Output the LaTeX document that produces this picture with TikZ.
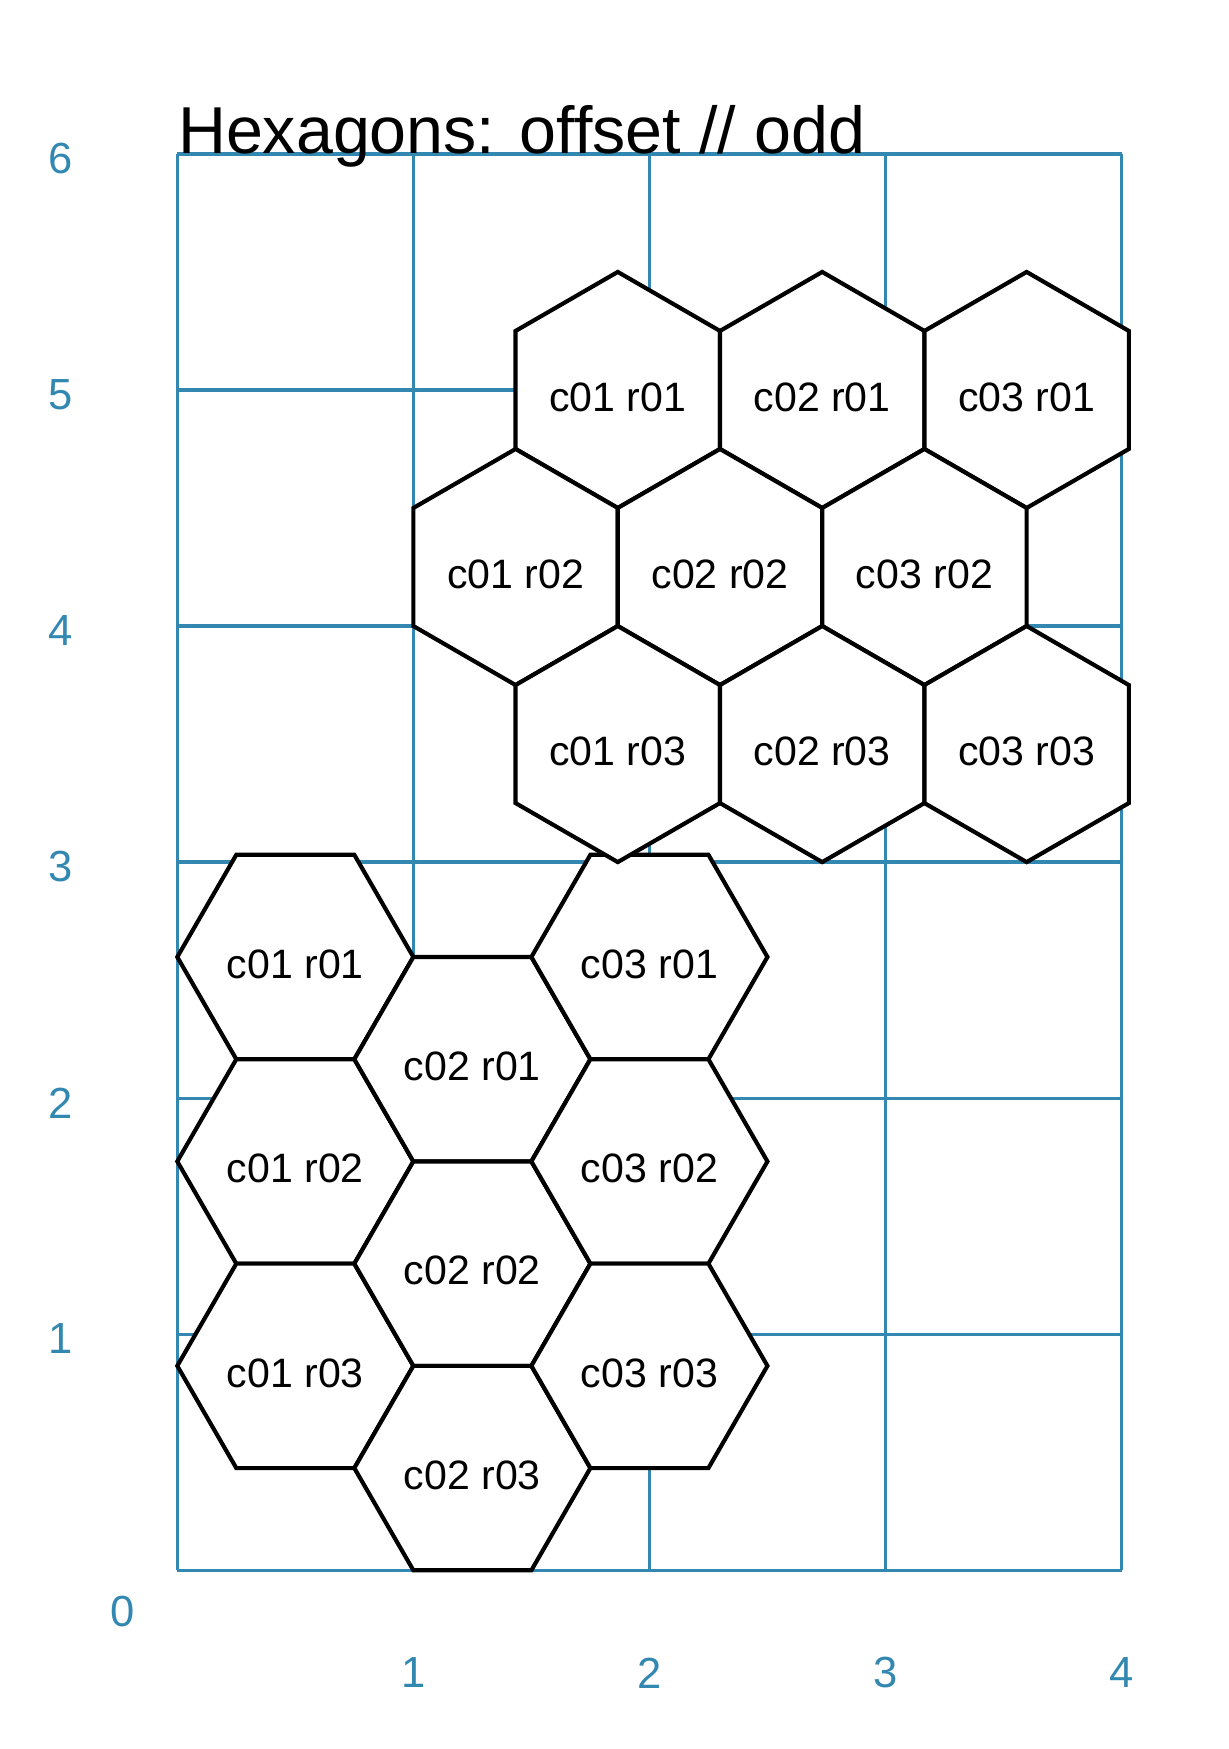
\documentclass[tikz,border=0pt]{standalone}
\usepackage{fontspec}
\setmainfont{Liberation Sans}
\usetikzlibrary{shapes.geometric}
\definecolor{gridblue}{HTML}{3288B0}

\begin{document}
\begin{tikzpicture}[x=2cm, y=2cm,
  gridline/.style={draw=gridblue, line width=0.8pt},
  ticklabel/.style={text=gridblue, inner sep=0pt, font=\fontsize{10.5}{12}\selectfont},
  flathex/.style={regular polygon, regular polygon sides=6, draw, fill=white,
    line width=1pt, minimum size=2cm, inner sep=0pt,
    text height=10.2pt, text depth=0pt,
    font=\fontsize{9.9}{12}\selectfont},
  pointhex/.style={flathex, regular polygon rotate=30}]
  \useasboundingbox (-0.751,-0.757) rectangle (4.454,6.652);

  % Grid
  \foreach \x in {0,...,4}
    \draw[gridline] (\x,0) -- (\x,6);
  \foreach \y in {0,...,6}
    \draw[gridline] (0,\y) -- (4,\y);

  % Axis labels
  \node[ticklabel] (l0) at (-0.23,-0.175) {0};
  \foreach \x in {1,...,4}
    \node[ticklabel] (lx\x) at (\x,-0.435) {\x};
  \foreach \y in {1,...,6}
    \node[ticklabel] (ly\y) at (-0.495,\y-0.02) {\y};

  % Flat hexagons, odd columns up
  \foreach \c in {1,2,3}
    \foreach \r in {1,2,3} {
      \pgfmathsetmacro{\hx}{0.5+0.75*(\c-1)}
      \pgfmathsetmacro{\hy}{0.8660*(4-\r)-0.4330*(1-mod(\c,2))}
      \node[flathex] (f\c\r) at (\hx,\hy) {c0\c{} r0\r};
    }

  % Pointy hexagons, even rows left
  \foreach \r in {1,2,3}
    \foreach \c in {1,2,3} {
      \pgfmathsetmacro{\hx}{1+0.8660*\c-0.4330*(1-mod(\r,2))}
      \pgfmathsetmacro{\hy}{5-0.75*(\r-1)}
      \node[pointhex] (p\c\r) at (\hx,\hy) {c0\c{} r0\r};
    }

  % Title
  \node[anchor=base west, inner sep=0pt, font=\fontsize{16}{19}\selectfont]
    (title) at (0,6) {Hexagons: offset // odd};
\end{tikzpicture}
\end{document}
